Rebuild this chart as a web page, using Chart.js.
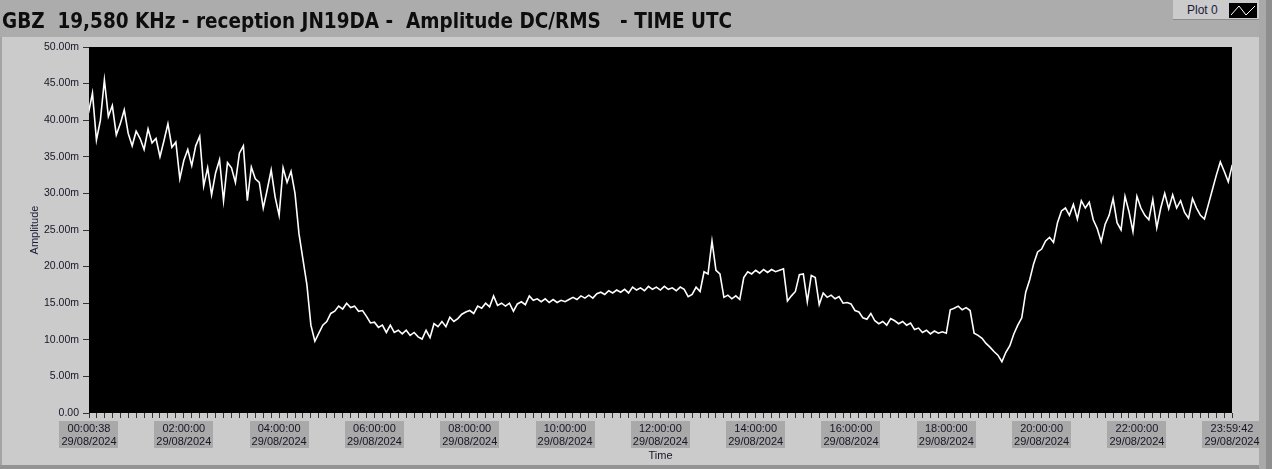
<!DOCTYPE html>
<html>
<head>
<meta charset="utf-8">
<script src="https://cdn.jsdelivr.net/npm/chart.js@4.4.1/dist/chart.umd.min.js"></script>
<style>
  html, body { margin: 0; padding: 0; }
  body { width: 1272px; height: 469px; position: relative; overflow: hidden; background: #cbcbcb; font-family: 'Liberation Sans', Arial, sans-serif; }
  #topband { position: absolute; left: 0; top: 0; width: 1272px; height: 37px; background: #acacac; }
  #panel { position: absolute; left: 0; top: 37px; width: 1259px; height: 428px; background: #cbcbcb; border-left: 2px solid #a4a4a4; box-sizing: border-box; }
  #bottom { position: absolute; left: 0; top: 465px; width: 1272px; height: 4px; background: #939393; }
  #edge1 { position: absolute; left: 1259px; top: 0; width: 7px; height: 469px; background: #a9a9a9; }
  #edge2 { position: absolute; left: 1266px; top: 0; width: 6px; height: 469px; background: #8e8e8e; }
  #legend { position: absolute; left: 1173px; top: 0; width: 86px; height: 20px; background: #cbcbcb; border-bottom: 1px solid #8c8c8c; box-sizing: border-box; }
  #legend span { position: absolute; left: 14px; top: 3px; font-size: 12px; color: #1a1a3a; }
  #legend svg { position: absolute; left: 56px; top: 3px; }
  #chart { position: absolute; left: 0; top: 0; }
</style>
</head>
<body>
<div id="topband"></div>
<div id="panel"></div>
<div id="bottom"></div>
<div id="edge1"></div>
<div id="edge2"></div>
<div id="legend"><span>Plot 0</span>
  <svg width="28" height="15"><rect width="28" height="15" fill="#000"/><polyline points="2,12 10,3 17,12 26,3" fill="none" stroke="#fff" stroke-width="1"/></svg>
</div>
<canvas id="chart" width="1272" height="469"></canvas>
<script>
// amplitude (milli) every 5 minutes, one array per hour
const amp00 = [41.0, 43.7, 37.3, 40.0, 45.5, 40.5, 42.0, 38.0, 39.5, 41.4, 38.2, 36.5];
const amp01 = [38.5, 37.5, 36.0, 38.8, 36.9, 37.5, 35.0, 37.2, 39.5, 36.3, 37.0, 32.0];
const amp02 = [34.5, 36.0, 33.8, 36.5, 37.8, 31.0, 33.5, 29.8, 32.8, 34.6, 29.0, 34.2];
const amp03 = [33.5, 31.5, 35.5, 36.5, 29.0, 33.6, 32.0, 31.5, 28.0, 30.5, 33.2, 29.5];
const amp04 = [27.0, 33.5, 31.5, 33.0, 30.0, 24.5, 21.0, 17.5, 12.0, 9.8, 10.9, 12.0];
const amp05 = [12.5, 13.6, 13.9, 14.6, 14.2, 15.0, 14.4, 14.6, 13.9, 14.0, 13.2, 12.3];
const amp06 = [12.4, 11.7, 12.0, 11.0, 12.0, 11.0, 11.3, 10.8, 11.3, 10.6, 11.0, 10.4];
const amp07 = [10.1, 11.3, 10.3, 12.2, 11.8, 12.5, 11.8, 13.1, 12.5, 12.9, 13.5, 13.8];
const amp08 = [14.0, 13.6, 14.6, 14.3, 15.0, 14.5, 16.0, 14.7, 15.0, 14.6, 15.0, 13.9];
const amp09 = [14.9, 15.2, 14.8, 16.0, 15.4, 15.6, 15.2, 15.6, 15.1, 15.5, 15.1, 15.4];
const amp10 = [15.2, 15.5, 15.8, 15.5, 16.0, 15.7, 16.1, 15.7, 16.3, 16.5, 16.2, 16.7];
const amp11 = [16.4, 16.8, 16.5, 16.9, 16.4, 17.2, 16.8, 17.1, 16.7, 17.3, 16.9, 17.2];
const amp12 = [16.8, 17.3, 16.9, 17.1, 16.7, 17.2, 16.9, 15.9, 16.2, 17.2, 16.6, 19.3];
const amp13 = [19.0, 23.5, 19.5, 19.0, 15.8, 16.1, 15.6, 16.0, 15.5, 18.5, 19.3, 19.0];
const amp14 = [19.5, 19.1, 19.6, 19.2, 19.6, 19.3, 19.5, 19.7, 15.3, 16.0, 16.6, 18.9];
const amp15 = [19.0, 15.2, 18.8, 18.5, 14.8, 16.4, 15.8, 16.1, 15.6, 15.9, 15.0, 15.1];
const amp16 = [14.9, 14.0, 13.8, 13.0, 12.8, 13.6, 12.6, 12.2, 12.5, 12.0, 12.9, 12.6];
const amp17 = [12.2, 12.5, 12.0, 12.3, 11.4, 11.6, 11.0, 11.3, 10.8, 11.2, 10.9, 11.1];
const amp18 = [10.9, 14.1, 14.3, 14.6, 14.1, 14.4, 14.0, 10.9, 10.6, 10.2, 9.5, 9.0];
const amp19 = [8.4, 7.9, 7.0, 8.3, 9.2, 10.8, 12.0, 13.0, 16.5, 18.2, 20.4, 22.0];
const amp20 = [22.4, 23.5, 24.0, 23.3, 26.0, 27.6, 28.0, 27.0, 28.5, 26.5, 29.0, 28.0];
const amp21 = [28.8, 26.4, 25.2, 23.4, 25.8, 27.0, 29.3, 26.0, 25.0, 29.6, 27.5, 24.8];
const amp22 = [29.6, 28.0, 27.0, 26.4, 29.2, 25.3, 28.0, 30.0, 27.9, 29.8, 28.0, 29.0];
const amp23 = [27.4, 26.6, 29.3, 28.0, 27.0, 26.5, 28.5, 30.5, 32.5, 34.3, 33.0, 31.6, 33.9];
const hours = [amp00, amp01, amp02, amp03, amp04, amp05, amp06, amp07, amp08, amp09, amp10, amp11,
               amp12, amp13, amp14, amp15, amp16, amp17, amp18, amp19, amp20, amp21, amp22, amp23];

// x axis labels (seconds of day)
const tickSeconds = [38, 7200, 14400, 21600, 28800, 36000, 43200, 50400, 57600, 64800, 72000, 79200, 86382];
const tickTimes = ['00:00:38', '02:00:00', '04:00:00', '06:00:00', '08:00:00', '10:00:00', '12:00:00',
                   '14:00:00', '16:00:00', '18:00:00', '20:00:00', '22:00:00', '23:59:42'];
const tickDate = '29/08/2024';
const yTicks = [0, 5, 10, 15, 20, 25, 30, 35, 40, 45, 50];

const points = [];
hours.forEach((arr, h) => {
    arr.forEach((v, k) => points.push({ x: h * 3600 + k * 300, y: v }));
});

const textColor = '#161626';
const font = "'Liberation Sans', Arial, sans-serif";

const plotBg = {
    id: 'plotBg',
    beforeDraw(chart) {
        const { ctx, chartArea: a, scales: { x } } = chart;
        ctx.save();
        ctx.fillStyle = '#000';
        ctx.fillRect(a.left, a.top, a.width, a.height);
        // grey boxes behind the time/date labels
        ctx.font = '11px ' + font;
        ctx.fillStyle = '#a9a9a9';
        tickSeconds.forEach((t, i) => {
            const px = x.getPixelForValue(t);
            const w = Math.max(ctx.measureText(tickTimes[i]).width, ctx.measureText(tickDate).width) + 4;
            ctx.fillRect(Math.round(px - w / 2), a.bottom + 8, Math.round(w), 27);
        });
        ctx.restore();
    }
};

new Chart(document.getElementById('chart'), {
    type: 'line',
    data: {
        datasets: [{
            label: 'Plot 0',
            data: points,
            borderColor: '#ffffff',
            borderWidth: 1.6,
            pointRadius: 0,
            tension: 0
        }]
    },
    options: {
        responsive: false,
        animation: false,
        layout: { padding: { left: 2, right: 40, top: 0, bottom: 6 } },
        plugins: {
            legend: { display: false },
            tooltip: { enabled: false },
            title: {
                display: true,
                text: 'GBZ  19,580 KHz - reception JN19DA -  Amplitude DC/RMS   - TIME UTC',
                align: 'start',
                color: '#0d0d0d',
                font: { family: "'Liberation Sans Narrow', 'DejaVu Sans Condensed', sans-serif", size: 20.5, weight: 'bold', lineHeight: 1 },
                padding: { top: 12, bottom: 14.5 }
            }
        },
        scales: {
            x: {
                type: 'linear',
                min: 38,
                max: 86382,
                afterFit: s => { s.height = 50; },
                afterBuildTicks: s => {
                    const list = [];
                    for (let t = 600; t < 86382; t += 600) {
                        if (tickSeconds.indexOf(t) < 0) list.push({ value: t });
                    }
                    tickSeconds.forEach((t, i) => list.push({ value: t, lbl: [tickTimes[i], tickDate] }));
                    list.sort((a, b) => a.value - b.value);
                    s.ticks = list;
                },
                ticks: {
                    autoSkip: false,
                    maxRotation: 0,
                    padding: 4,
                    color: textColor,
                    font: { family: font, size: 11, lineHeight: 1.2 },
                    callback: (v, i, ticks) => ticks[i].lbl || ''
                },
                grid: { drawOnChartArea: false, tickLength: 5, color: '#333' },
                border: { display: false },
                title: { display: true, text: 'Time', color: textColor, font: { family: font, size: 11, lineHeight: 1.2 }, padding: { top: 0, bottom: 0 } }
            },
            y: {
                min: 0,
                max: 50,
                afterFit: s => { s.width = 87; },
                afterBuildTicks: s => { s.ticks = yTicks.map(v => ({ value: v })); },
                ticks: {
                    padding: 4,
                    color: textColor,
                    font: { family: font, size: 10.5 },
                    callback: v => v === 0 ? '0.00' : v.toFixed(2) + 'm'
                },
                grid: { drawOnChartArea: false, tickLength: 6, color: '#333' },
                border: { display: false },
                title: { display: true, text: 'Amplitude', color: '#1a1a3a', font: { family: font, size: 11, lineHeight: 1.2 }, padding: { top: 26 } }
            }
        }
    },
    plugins: [plotBg]
});
</script>
</body>
</html>
